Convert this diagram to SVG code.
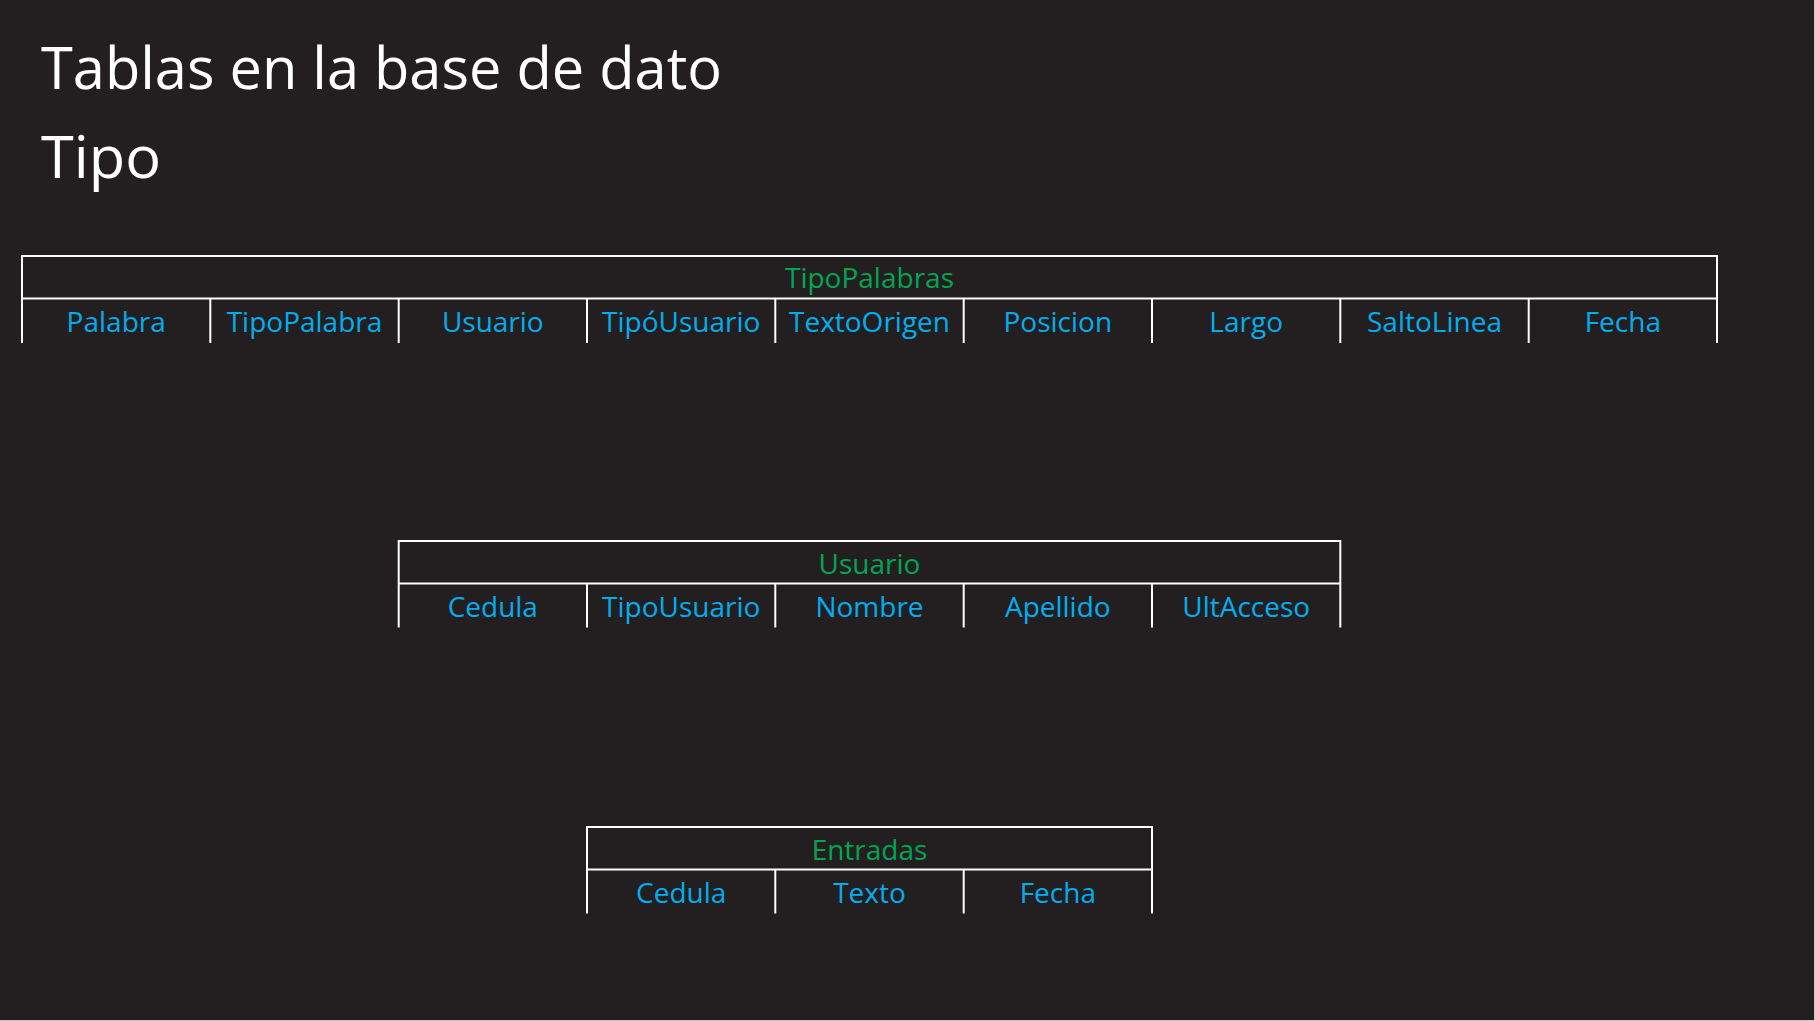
<svg xmlns="http://www.w3.org/2000/svg" width="1815" height="1021" viewBox="0 0 1815 1021">
  <style>
    .ln { stroke: #ffffff; stroke-width: 2; fill: none; }
    .title { font-family: "Open Sans", "Noto Sans", sans-serif; font-weight: 400; font-size: 58px; fill: #ffffff; }
    .hdr { font-family: "Open Sans", "Noto Sans", sans-serif; font-size: 28px; fill: #00A651; text-anchor: middle; }
    .fld { font-family: "Open Sans", "Noto Sans", sans-serif; font-size: 28px; fill: #00AEEF; text-anchor: middle; }
  </style>
  <rect x="0" y="0" width="1815" height="1021" fill="#c8c8c8"/>
  <rect x="0" y="0" width="1814" height="1020" fill="#231F20"/>

  <g id="titles">
    <text class="title" x="41" y="89" textLength="681" lengthAdjust="spacingAndGlyphs">Tablas en la base de dato</text>
    <text class="title" x="41" y="178" textLength="120" lengthAdjust="spacingAndGlyphs">Tipo</text>
  </g>

  <g id="connectors"></g>

  <g id="table-TipoPalabras">
    <path class="ln" d="M22,343 V256 H1717 V343 M22,298.5 H1717 M210.3,298.5 V343 M398.7,298.5 V343 M587,298.5 V343 M775.3,298.5 V343 M963.7,298.5 V343 M1152,298.5 V343 M1340.3,298.5 V343 M1528.7,298.5 V343"/>
    <text class="hdr" x="869.5" y="288">TipoPalabras</text>
    <text class="fld" x="116.2" y="332">Palabra</text>
    <text class="fld" x="304.5" y="332">TipoPalabra</text>
    <text class="fld" x="492.8" y="332">Usuario</text>
    <text class="fld" x="681.2" y="332">TipóUsuario</text>
    <text class="fld" x="869.5" y="332">TextoOrigen</text>
    <text class="fld" x="1057.8" y="332">Posicion</text>
    <text class="fld" x="1246.2" y="332">Largo</text>
    <text class="fld" x="1434.5" y="332">SaltoLinea</text>
    <text class="fld" x="1622.8" y="332">Fecha</text>
  </g>

  <g id="table-Usuario">
    <path class="ln" d="M398.7,627.5 V541 H1340.3 V627.5 M398.7,583.5 H1340.3 M587,583.5 V627.5 M775.3,583.5 V627.5 M963.7,583.5 V627.5 M1152,583.5 V627.5"/>
    <text class="hdr" x="869.5" y="573.5">Usuario</text>
    <text class="fld" x="492.8" y="617">Cedula</text>
    <text class="fld" x="681.2" y="617">TipoUsuario</text>
    <text class="fld" x="869.5" y="617">Nombre</text>
    <text class="fld" x="1057.8" y="617">Apellido</text>
    <text class="fld" x="1246.2" y="617">UltAcceso</text>
  </g>

  <g id="table-Entradas">
    <path class="ln" d="M587,913.5 V827 H1152 V913.5 M587,869.5 H1152 M775.3,869.5 V913.5 M963.7,869.5 V913.5"/>
    <text class="hdr" x="869.5" y="859.5">Entradas</text>
    <text class="fld" x="681.2" y="903">Cedula</text>
    <text class="fld" x="869.5" y="903">Texto</text>
    <text class="fld" x="1057.8" y="903">Fecha</text>
  </g>
</svg>
